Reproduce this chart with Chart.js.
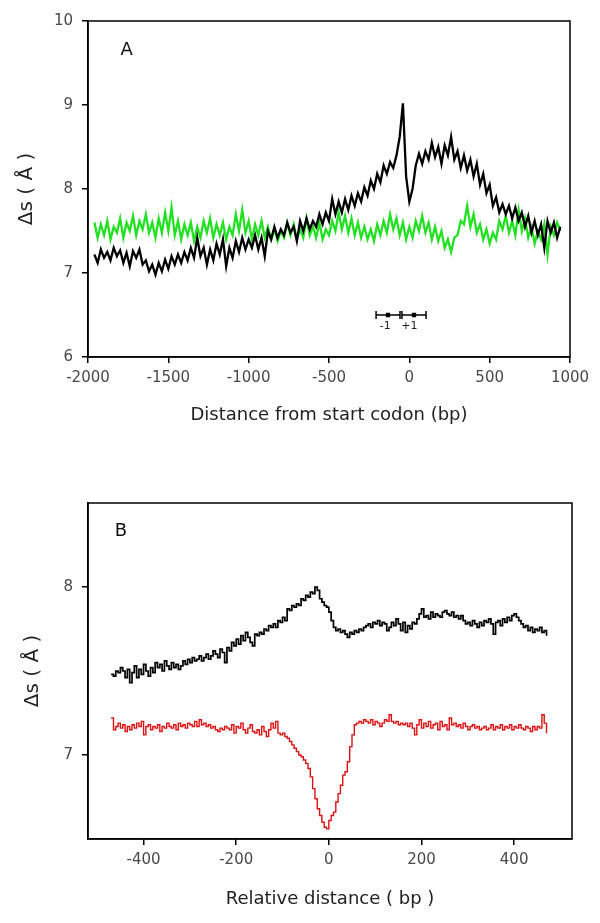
<!DOCTYPE html>
<html><head><meta charset="utf-8">
<script src="https://cdn.jsdelivr.net/npm/chart.js@4.4.1/dist/chart.umd.min.js"></script>
<style>
html,body{margin:0;padding:0;background:#fff;}
#wa{position:absolute;left:0;top:0;width:600px;height:460px;}
#wb{position:absolute;left:0;top:460px;width:600px;height:463px;}
</style></head><body>
<div id="wa"><canvas id="ca"></canvas></div>
<div id="wb"><canvas id="cb"></canvas></div>
<script>
// ---------- Panel A data ----------
const xA = [
-1960,-1940,-1920,-1900,-1880,-1860,-1840,-1820,-1800,-1780,
-1760,-1740,-1720,-1700,-1680,-1660,-1640,-1620,-1600,-1580,
-1560,-1540,-1520,-1500,-1480,-1460,-1440,-1420,-1400,-1380,
-1360,-1340,-1320,-1300,-1280,-1260,-1240,-1220,-1200,-1180,
-1160,-1140,-1120,-1100,-1080,-1060,-1040,-1020,-1000,-980,
-960,-940,-920,-900,-880,-860,-840,-820,-800,-780,
-760,-740,-720,-700,-680,-660,-640,-620,-600,-580,
-560,-540,-520,-500,-480,-460,-440,-420,-400,-380,
-360,-340,-320,-300,-280,-260,-240,-220,-200,-180,
-160,-140,-120,-100,-80,-60,-40,-20,0,20,
40,60,80,100,120,140,160,180,200,220,
240,260,280,300,320,340,360,380,400,420,
440,460,480,500,520,540,560,580,600,620,
640,660,680,700,720,740,760,780,800,820,
840,860,880,900,920,940];
const blackA = [
7.22,7.12,7.28,7.18,7.25,7.15,7.30,7.20,7.27,7.12,
7.24,7.08,7.26,7.18,7.28,7.10,7.15,7.02,7.10,6.98,
7.12,7.02,7.16,7.05,7.20,7.10,7.22,7.12,7.25,7.15,
7.30,7.18,7.42,7.20,7.30,7.10,7.28,7.15,7.35,7.22,
7.40,7.08,7.30,7.18,7.38,7.25,7.42,7.28,7.40,7.30,
7.45,7.28,7.42,7.20,7.50,7.40,7.55,7.42,7.52,7.45,
7.60,7.48,7.55,7.38,7.62,7.50,7.65,7.52,7.62,7.55,
7.70,7.58,7.72,7.62,7.88,7.70,7.85,7.72,7.88,7.75,
7.92,7.80,7.95,7.85,8.02,7.92,8.10,8.00,8.18,8.08,
8.28,8.18,8.32,8.25,8.40,8.62,9.02,8.15,7.85,8.00,
8.28,8.42,8.30,8.45,8.35,8.55,8.38,8.50,8.30,8.52,
8.40,8.62,8.35,8.45,8.25,8.40,8.22,8.35,8.15,8.30,
8.05,8.18,7.95,8.05,7.80,7.90,7.72,7.82,7.70,7.80,
7.65,7.78,7.62,7.72,7.55,7.68,7.48,7.62,7.45,7.58,
7.30,7.62,7.48,7.60,7.42,7.55];
const greenA = [
7.60,7.42,7.58,7.45,7.62,7.40,7.55,7.48,7.65,7.42,
7.60,7.50,7.68,7.45,7.62,7.52,7.70,7.48,7.60,7.42,
7.65,7.48,7.72,7.50,7.78,7.45,7.62,7.40,7.58,7.45,
7.60,7.38,7.55,7.42,7.62,7.48,7.65,7.42,7.58,7.45,
7.60,7.40,7.55,7.45,7.70,7.50,7.75,7.48,7.62,7.40,
7.58,7.45,7.62,7.42,7.55,7.40,7.52,7.38,7.50,7.42,
7.60,7.45,7.58,7.40,7.52,7.42,7.65,7.45,7.55,7.42,
7.60,7.40,7.52,7.45,7.62,7.50,7.72,7.52,7.68,7.48,
7.65,7.45,7.60,7.42,7.55,7.40,7.52,7.38,7.58,7.45,
7.62,7.48,7.70,7.52,7.65,7.45,7.60,7.40,7.55,7.42,
7.62,7.50,7.68,7.48,7.60,7.40,7.55,7.38,7.50,7.30,
7.40,7.25,7.42,7.45,7.62,7.58,7.80,7.55,7.70,7.48,
7.58,7.40,7.52,7.35,7.48,7.40,7.62,7.52,7.68,7.48,
7.62,7.45,7.75,7.50,7.65,7.42,7.55,7.35,7.50,7.40,
7.58,7.22,7.55,7.45,7.60,7.50];
// nucleosome -1 / +1 position markers (start, centre, end) at y = nucY
const nucM1X = [-207,-133,-58];
const nucP1X = [-46,29,104];
const nucY = 6.5;
const nucLabels = ['-1', '+1'];
const ticksAX = [-2000,-1500,-1000,-500,0,500,1000];
const ticksAY = [6,7,8,9,10];

// ---------- Panel B data ----------
const xB = [
-470,-465,-460,-455,-450,-445,-440,-435,-430,-425,
-420,-415,-410,-405,-400,-395,-390,-385,-380,-375,
-370,-365,-360,-355,-350,-345,-340,-335,-330,-325,
-320,-315,-310,-305,-300,-295,-290,-285,-280,-275,
-270,-265,-260,-255,-250,-245,-240,-235,-230,-225,
-220,-215,-210,-205,-200,-195,-190,-185,-180,-175,
-170,-165,-160,-155,-150,-145,-140,-135,-130,-125,
-120,-115,-110,-105,-100,-95,-90,-85,-80,-75,
-70,-65,-60,-55,-50,-45,-40,-35,-30,-25,
-20,-15,-10,-5,0,5,10,15,20,25,
30,35,40,45,50,55,60,65,70,75,
80,85,90,95,100,105,110,115,120,125,
130,135,140,145,150,155,160,165,170,175,
180,185,190,195,200,205,210,215,220,225,
230,235,240,245,250,255,260,265,270,275,
280,285,290,295,300,305,310,315,320,325,
330,335,340,345,350,355,360,365,370,375,
380,385,390,395,400,405,410,415,420,425,
430,435,440,445,450,455,460,465,470];
const blackB = [
7.48,7.47,7.50,7.49,7.52,7.50,7.46,7.51,7.43,7.49,
7.53,7.46,7.51,7.48,7.54,7.50,7.47,7.52,7.49,7.55,
7.52,7.54,7.50,7.56,7.53,7.51,7.55,7.52,7.54,7.51,
7.53,7.56,7.54,7.57,7.55,7.58,7.56,7.57,7.59,7.56,
7.58,7.60,7.57,7.59,7.62,7.60,7.58,7.63,7.61,7.55,
7.64,7.62,7.67,7.65,7.69,7.66,7.71,7.68,7.73,7.70,
7.67,7.65,7.72,7.71,7.73,7.72,7.75,7.74,7.77,7.76,
7.78,7.76,7.80,7.79,7.82,7.80,7.87,7.86,7.89,7.88,
7.90,7.89,7.93,7.92,7.95,7.94,7.97,7.96,8.00,7.98,
7.93,7.91,7.89,7.88,7.85,7.80,7.76,7.74,7.75,7.73,
7.74,7.72,7.70,7.73,7.72,7.74,7.73,7.75,7.74,7.76,
7.77,7.78,7.76,7.79,7.78,7.80,7.77,7.79,7.78,7.74,
7.76,7.79,7.77,7.81,7.78,7.74,7.79,7.73,7.77,7.75,
7.79,7.78,7.81,7.84,7.87,7.82,7.83,7.81,7.85,7.82,
7.84,7.83,7.82,7.85,7.86,7.84,7.83,7.85,7.82,7.83,
7.81,7.83,7.80,7.78,7.79,7.77,7.80,7.78,7.76,7.79,
7.77,7.80,7.79,7.81,7.78,7.72,7.79,7.80,7.77,7.81,
7.79,7.82,7.80,7.83,7.84,7.82,7.80,7.78,7.76,7.77,
7.74,7.76,7.73,7.75,7.74,7.76,7.73,7.74,7.71];
const redB = [
7.22,7.15,7.17,7.19,7.16,7.18,7.14,7.17,7.15,7.18,
7.16,7.19,7.17,7.20,7.12,7.17,7.18,7.15,7.17,7.16,
7.18,7.14,7.17,7.16,7.19,7.17,7.16,7.18,7.15,7.19,
7.17,7.18,7.16,7.19,7.18,7.17,7.20,7.17,7.21,7.18,
7.19,7.17,7.18,7.16,7.17,7.15,7.14,7.16,7.15,7.17,
7.16,7.15,7.18,7.13,7.17,7.16,7.19,7.15,7.13,7.16,
7.18,7.14,7.13,7.15,7.12,7.17,7.14,7.11,7.15,7.19,
7.16,7.20,7.13,7.12,7.13,7.11,7.10,7.08,7.06,7.04,
7.02,7.00,6.99,6.97,6.95,6.92,6.87,6.80,6.74,6.68,
6.64,6.60,6.57,6.56,6.61,6.64,6.66,6.72,6.77,6.82,
6.88,6.90,6.96,7.05,7.12,7.18,7.19,7.20,7.19,7.21,
7.20,7.19,7.21,7.18,7.20,7.19,7.17,7.19,7.21,7.20,
7.24,7.20,7.19,7.20,7.18,7.19,7.18,7.19,7.17,7.19,
7.16,7.12,7.18,7.21,7.16,7.19,7.17,7.20,7.16,7.18,
7.19,7.15,7.20,7.17,7.18,7.15,7.22,7.18,7.19,7.17,
7.18,7.16,7.19,7.17,7.15,7.17,7.18,7.16,7.17,7.15,
7.16,7.17,7.15,7.16,7.18,7.15,7.17,7.16,7.18,7.15,
7.17,7.16,7.18,7.15,7.17,7.16,7.18,7.16,7.15,7.17,
7.16,7.14,7.17,7.15,7.17,7.16,7.24,7.19,7.13];
const ticksBX = [-400,-200,0,200,400];
const ticksBY = [7,8];

// ---------- helpers ----------
const FONT = "'DejaVu Sans', 'Liberation Sans', Arial, sans-serif";
const pts = (xs, ys) => xs.map((x, i) => ({x: x, y: ys[i]}));
const flat = (xs, y) => xs.map(x => ({x: x, y: y}));

const boxAndText = {
  id: 'boxAndText',
  afterDraw(chart, args, opts) {
    const {ctx, chartArea: a, scales} = chart;
    ctx.save();
    ctx.strokeStyle = '#000';
    ctx.lineWidth = 1.5;
    ctx.strokeRect(a.left, a.top, a.right - a.left, a.bottom - a.top);
    (opts.items || []).forEach(it => {
      ctx.font = it.font;
      ctx.fillStyle = it.color || '#111';
      ctx.textAlign = 'center';
      ctx.textBaseline = 'middle';
      ctx.fillText(it.text, scales.x.getPixelForValue(it.x), scales.y.getPixelForValue(it.y));
    });
    ctx.restore();
  }
};

function axisCommon(min, max, ticks, title, fitSize, isX) {
  return {
    type: 'linear',
    min: min, max: max,
    afterBuildTicks: s => { s.ticks = ticks.map(v => ({value: v})); },
    afterFit: s => { if (isX) s.height = fitSize; else s.width = fitSize; },
    ticks: {color: '#484848', font: {family: FONT, size: 15}, padding: isX ? 6 : 9,
            callback: v => String(v)},
    grid: {display: true, drawOnChartArea: false, drawTicks: true, tickLength: 6,
           color: '#000', lineWidth: 1.5},
    border: {display: true, color: '#000', width: 1.5},
    title: {display: true, text: title, color: '#222',
            font: {family: FONT, size: isX ? 18 : 20}, padding: {top: 4, bottom: 4}}
  };
}

const lineDs = (data, color, w, stepped) => ({
  data: data, borderColor: color, backgroundColor: color, borderWidth: w,
  pointRadius: 0, stepped: stepped, fill: false, tension: 0, borderJoinStyle: 'miter'
});

const markerDs = (xs) => ({
  data: flat(xs, nucY), borderColor: '#000', backgroundColor: '#000', borderWidth: 1.5,
  pointStyle: ['line', 'rect', 'line'], pointRadius: [4, 2, 4], pointRotation: [90, 0, 90],
  pointBorderWidth: 1.5, fill: false
});

Chart.defaults.animation = false;

new Chart(document.getElementById('ca'), {
  type: 'line',
  data: {datasets: [
    lineDs(pts(xA, blackA), '#000000', 2.3, false),
    lineDs(pts(xA, greenA), '#22e022', 2.3, false),
    markerDs(nucM1X),
    markerDs(nucP1X)
  ]},
  options: {
    responsive: true, maintainAspectRatio: false, animation: false,
    layout: {padding: {left: 11, right: 30, top: 21, bottom: 30}},
    plugins: {legend: {display: false}, tooltip: {enabled: false},
      boxAndText: {items: [
        {text: 'A', x: -1760, y: 9.65, font: '18px ' + FONT, color: '#111'},
        {text: nucLabels[0], x: -150, y: 6.37, font: '11px ' + FONT, color: '#222'},
        {text: nucLabels[1], x: 0, y: 6.37, font: '11px ' + FONT, color: '#222'}
      ]}},
    scales: {
      x: axisCommon(-2000, 1000, ticksAX, 'Distance from start codon (bp)', 73, true),
      y: axisCommon(6, 10, ticksAY, 'Δs ( Å )', 77, false)
    }
  },
  plugins: [boxAndText]
});

new Chart(document.getElementById('cb'), {
  type: 'line',
  data: {datasets: [
    lineDs(pts(xB, blackB), '#000000', 1.7, true),
    lineDs(pts(xB, redB), '#dd1111', 1.4, true)
  ]},
  options: {
    responsive: true, maintainAspectRatio: false, animation: false,
    layout: {padding: {left: 17, right: 28, top: 43, bottom: 9}},
    plugins: {legend: {display: false}, tooltip: {enabled: false},
      boxAndText: {items: [
        {text: 'B', x: -449, y: 8.33, font: '18px ' + FONT, color: '#111'}
      ]}},
    scales: {
      x: axisCommon(-520, 525, ticksBX, 'Relative distance ( bp )', 75, true),
      y: axisCommon(6.5, 8.5, ticksBY, 'Δs ( Å )', 71, false)
    }
  },
  plugins: [boxAndText]
});
</script>
</body></html>
